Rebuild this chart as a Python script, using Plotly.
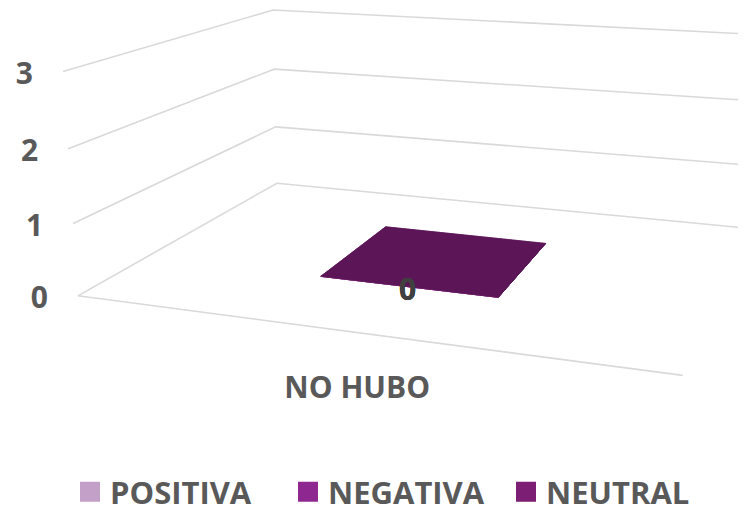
import numpy as np
import plotly.graph_objects as go

# ---------------- data ----------------
categories = ["NO HUBO"]
series_names = ["POSITIVA", "NEGATIVA", "NEUTRAL"]
positiva = [0]
negativa = [0]
neutral = [0]
value_ticks = [0, 1, 2, 3]
value_max = 3

# ---------------- style ----------------
series_colors = ["#C3A0C8", "#8E2890", "#7B1E74"]
top_shade = 0.75
side_shade = 0.6
grid_color = "#D9D9D9"
text_color = "#595959"
label_color = "#404040"
FONT = "Open Sans"
W, H = 746, 516
PAGE_MARGIN = 8          # default <body> margin of the html page
bar_width_frac = 0.32
bar_depth_frac = 0.41

# camera calibration of the 3-D frame: (category axis, depth, value) -> page px
frame_world = [(0, 0, 0), (0, 0, 1), (0, 0, 2), (0, 0, 3),
               (0, 1, 0), (0, 1, 1), (0, 1, 2), (0, 1, 3),
               (1, 0, 0), (1, 1, 0), (1, 1, 1), (1, 1, 2), (1, 1, 3)]
frame_px = [(78, 296), (73, 223), (68, 149), (63, 72),
            (277, 183), (275, 127), (275, 69), (273, 10),
            (683, 375), (745, 228), (750, 166), (755, 101), (760, 34)]


def fit_projection(world, px):
    w = np.asarray(world, float)
    p = np.asarray(px, float)
    m = p.mean(0)
    s = p.std()
    pn = (p - m) / s
    rows = []
    for (X, Y, Z), (u, v) in zip(w, pn):
        rows.append([X, Y, Z, 1, 0, 0, 0, 0, -u * X, -u * Y, -u * Z, -u])
        rows.append([0, 0, 0, 0, X, Y, Z, 1, -v * X, -v * Y, -v * Z, -v])
    _, _, vt = np.linalg.svd(np.array(rows))
    Pn = vt[-1].reshape(3, 4)
    T = np.array([[s, 0, m[0]], [0, s, m[1]], [0, 0, 1]])
    return T @ Pn


P = fit_projection(frame_world, frame_px)


def proj(x, y, z):
    h = P @ np.array([x, y, z, 1.0])
    return h[0] / h[2], h[1] / h[2]


def shade(hex_color, f):
    r, g, b = (int(hex_color[i:i + 2], 16) for i in (1, 3, 5))
    return "rgb(%d,%d,%d)" % (r * f, g * f, b * f)


fig = go.Figure()

# gridlines on left wall and back wall
gx, gy = [], []
for v in value_ticks:
    for pt in [proj(0, 0, v), proj(0, 1, v), proj(1, 1, v)]:
        gx.append(pt[0]); gy.append(pt[1])
    gx.append(None); gy.append(None)
# floor front edge (category axis)
for pt in [proj(0, 0, 0), proj(1, 0, 0)]:
    gx.append(pt[0]); gy.append(pt[1])
fig.add_trace(go.Scatter(x=gx, y=gy, mode="lines", line=dict(color=grid_color, width=1.6),
                         hoverinfo="skip", showlegend=False))

# value tick labels
tx, ty = [], []
for v in value_ticks:
    px_, py_ = proj(0, 0, v)
    tx.append(px_ - 30); ty.append(py_ + 5)
fig.add_trace(go.Scatter(x=tx, y=ty, mode="text", text=[str(v) for v in value_ticks],
                         textposition="middle left",
                         textfont=dict(family=FONT, size=30, color=text_color, weight=700),
                         hoverinfo="skip", showlegend=False))

# category labels
n = len(categories)
cx, cy = [], []
for i, c in enumerate(categories):
    px_, py_ = proj((i + 0.5) / n, 0, 0)
    cx.append(px_); cy.append(py_ + 58)
fig.add_trace(go.Scatter(x=cx, y=cy, mode="text", text=categories, textposition="middle center",
                         textfont=dict(family=FONT, size=30, color=text_color, weight=700),
                         hoverinfo="skip", showlegend=False))

# stacked 3-D columns
series_values = [positiva, negativa, neutral]
cum = [0.0] * n
label_pts = []
for name, vals, col in zip(series_names, series_values, series_colors):
    for i in range(n):
        x0 = (i + 0.5 - bar_width_frac / 2) / n
        x1 = (i + 0.5 + bar_width_frac / 2) / n
        y0 = 0.5 - bar_depth_frac / 2
        y1 = 0.5 + bar_depth_frac / 2
        z0 = cum[i]
        z1 = cum[i] + vals[i]
        faces = [
            ([(x0, y0, z0), (x1, y0, z0), (x1, y0, z1), (x0, y0, z1)], col),
            ([(x1, y0, z0), (x1, y1, z0), (x1, y1, z1), (x1, y0, z1)], shade(col, side_shade)),
            ([(x0, y0, z1), (x1, y0, z1), (x1, y1, z1), (x0, y1, z1)], shade(col, top_shade)),
        ]
        for pts, fc in faces:
            pp = [proj(*q) for q in pts]
            xs = [q[0] for q in pp] + [pp[0][0]]
            ys = [q[1] for q in pp] + [pp[0][1]]
            fig.add_trace(go.Scatter(x=xs, y=ys, mode="lines", fill="toself", fillcolor=fc,
                                     line=dict(color=fc, width=0.5), hoverinfo="skip",
                                     showlegend=False))
        lx, ly = proj((i + 0.5) / n, y0, z1)
        label_pts.append((lx, ly + 6, vals[i]))
        cum[i] = z1

# data labels
fig.add_trace(go.Scatter(x=[p[0] for p in label_pts], y=[p[1] for p in label_pts], mode="text",
                         text=[str(p[2]) for p in label_pts], textposition="middle center",
                         textfont=dict(family=FONT, size=30, color=label_color, weight=700),
                         hoverinfo="skip", showlegend=False))

# legend entries
for name, col in zip(series_names, series_colors):
    fig.add_trace(go.Scatter(x=[None], y=[None], mode="markers", name=name,
                             marker=dict(symbol="square", size=16, color=col,
                                         line=dict(color=col, width=4))))

FW, FH = W - PAGE_MARGIN, H - 5
fig.update_layout(
    width=FW, height=FH,
    margin=dict(l=0, r=0, t=0, b=0),
    paper_bgcolor="white", plot_bgcolor="white",
    xaxis=dict(range=[PAGE_MARGIN, W], visible=False, fixedrange=True),
    yaxis=dict(range=[FH + PAGE_MARGIN, PAGE_MARGIN], visible=False, fixedrange=True),
    showlegend=True,
    legend=dict(orientation="h", x=(70 - PAGE_MARGIN) / FW, xanchor="left",
                y=0, yanchor="bottom",
                font=dict(family=FONT, size=31, color=text_color, weight=700),
                entrywidth=173, entrywidthmode="pixels",
                itemsizing="trace", bgcolor="rgba(0,0,0,0)"),
)

fig.write_html("out.html")
